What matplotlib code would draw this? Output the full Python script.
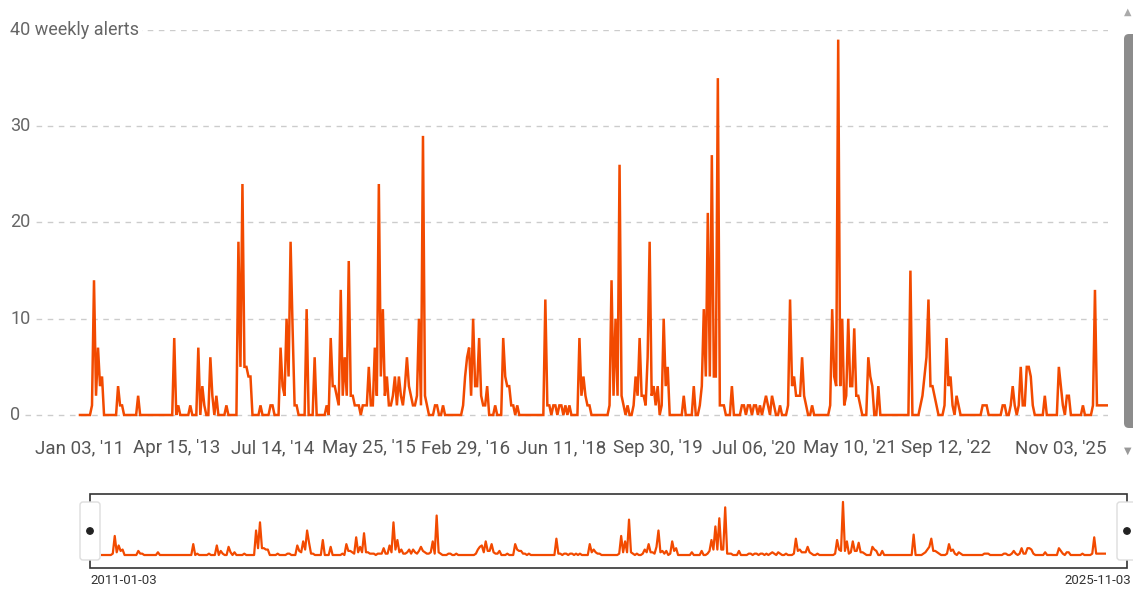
import numpy as np
import matplotlib
matplotlib.use("Agg")
import matplotlib.pyplot as plt
from matplotlib.patches import Rectangle, FancyBboxPatch, Circle

# weekly alert counts, one point per week on an ordinal axis (weeks not listed are 0)
n_weeks = 513
alerts_by_week = {
    6: 1, 7: 14, 8: 2, 9: 7, 10: 3, 11: 4,
    19: 3, 20: 1, 21: 1, 29: 2,
    47: 8, 49: 1, 55: 1, 59: 7, 61: 3, 62: 1, 65: 6, 66: 2, 68: 2, 73: 1,
    79: 18, 80: 5, 81: 24, 82: 5, 83: 5, 84: 4, 85: 4,
    90: 1, 95: 1, 96: 1,
    100: 7, 101: 3, 102: 2, 103: 10, 104: 4, 105: 18, 106: 9, 107: 1, 108: 1,
    113: 11, 117: 6, 123: 1,
    125: 8, 126: 3, 127: 3, 128: 2, 129: 1, 130: 13, 131: 2, 132: 6, 133: 2,
    134: 16, 135: 2, 136: 2, 137: 1, 138: 1, 139: 1, 141: 1, 142: 1, 143: 1,
    144: 5, 145: 1, 146: 1, 147: 7, 148: 2, 149: 24, 150: 4, 151: 11, 152: 2,
    153: 4, 154: 1, 155: 1, 156: 2, 157: 4, 158: 1, 159: 4, 160: 2, 161: 1,
    162: 3, 163: 6, 164: 3, 165: 2, 166: 1, 167: 1, 168: 2, 169: 10, 170: 1,
    171: 29, 172: 2, 173: 1, 177: 1, 178: 1, 181: 1,
    191: 1, 192: 4, 193: 6, 194: 7, 195: 2, 196: 10, 197: 3, 198: 3, 199: 8,
    200: 2, 201: 1, 202: 1, 203: 3, 207: 1,
    211: 8, 212: 4, 213: 3, 214: 3, 215: 1, 216: 1, 218: 1,
    232: 12, 233: 1, 234: 1, 236: 1, 237: 1, 239: 1, 240: 1, 242: 1, 244: 1,
    249: 8, 250: 2, 251: 4, 252: 2, 253: 1, 254: 1,
    264: 1, 265: 14, 266: 2, 267: 10, 268: 2, 269: 26, 270: 2, 271: 1, 273: 1,
    276: 1, 277: 4, 278: 2, 279: 8, 280: 2, 281: 2, 282: 1, 283: 6, 284: 18,
    285: 2, 286: 3, 287: 1, 288: 3, 290: 1, 291: 10, 292: 3, 293: 5,
    301: 2, 306: 3, 309: 1, 310: 3, 311: 11, 312: 4, 313: 21, 314: 4, 315: 27,
    316: 4, 317: 4, 318: 35, 319: 1, 320: 1, 321: 1, 325: 3,
    330: 1, 331: 1, 333: 1, 334: 1, 336: 1, 337: 1, 339: 1,
    341: 1, 342: 2, 343: 1, 345: 2, 346: 1, 349: 1,
    353: 1, 354: 12, 355: 3, 356: 4, 357: 2, 358: 2, 359: 2, 360: 6, 361: 2,
    362: 1, 365: 1,
    374: 1, 375: 11, 376: 4, 377: 3, 378: 39, 379: 3, 380: 10, 381: 1, 382: 2,
    383: 10, 384: 3, 385: 3, 386: 9, 387: 2, 388: 2, 389: 1,
    393: 6, 394: 4, 395: 3, 398: 3, 414: 15,
    419: 1, 420: 2, 421: 4, 422: 6, 423: 12, 424: 3, 425: 3, 426: 2, 427: 1,
    431: 1, 432: 8, 433: 3, 434: 4, 435: 1, 437: 2, 438: 1,
    450: 1, 451: 1, 452: 1,
    460: 1, 461: 1, 464: 1, 465: 3, 466: 1, 468: 1, 469: 5, 470: 1, 471: 1,
    472: 5, 473: 5, 474: 4, 475: 1, 481: 2,
    488: 5, 489: 3, 490: 1, 492: 2, 493: 2, 500: 1,
    505: 1, 506: 13, 507: 1, 508: 1, 509: 1, 510: 1, 511: 1, 512: 1,
}

tick_weeks = [0, 48, 96, 144, 192, 240, 288, 336, 384, 432, 512]
tick_labels = ["Jan 03, '11", "Apr 15, '13", "Jul 14, '14", "May 25, '15",
               "Feb 29, '16", "Jun 11, '18", "Sep 30, '19", "Jul 06, '20",
               "May 10, '21", "Sep 12, '22", "Nov 03, '25"]
y_ticks = [0, 10, 20, 30, 40]
y_labels = ["0", "10", "20", "30", "40 weekly alerts"]
nav_labels = ["2011-01-03", "2025-11-03"]

weeks = np.arange(n_weeks)
alerts = np.zeros(n_weeks)
for w, v in alerts_by_week.items():
    alerts[w] = v

W, H = 1133, 589
line_color = "#f24a00"
plt.rcParams["font.family"] = ["Roboto", "DejaVu Sans"]

fig = plt.figure(figsize=(W / 100, H / 100), dpi=100)

def px_box(x0, y0, x1, y1):
    return [x0 / W, 1 - y1 / H, (x1 - x0) / W, (y1 - y0) / H]

# overlay in pixel coords for the widget chrome
over = fig.add_axes([0, 0, 1, 1])
over.set_xlim(0, W)
over.set_ylim(H, 0)
over.axis("off")

# main chart
ax = fig.add_axes(px_box(25, 30, 1108, 420))
ax.patch.set_alpha(0)
ax.plot(weeks, alerts, color=line_color, lw=1.8, solid_joinstyle="miter", zorder=3)
ax.set_xlim(-27.4, n_weeks - 0.5)
ax.set_ylim(-0.52, 40)
for s in ax.spines.values():
    s.set_visible(False)
ax.set_yticks(y_ticks)
ax.set_yticklabels([])
ax.tick_params(axis="y", length=0)
ax.grid(axis="y", color="#cccccc", lw=1, ls=(0, (4, 4)))
ax.set_axisbelow(True)
for yv, lab in zip(y_ticks, y_labels):
    ax.text(-15 / 1083, yv, lab, transform=ax.get_yaxis_transform(),
            ha="left", va="center", fontsize=13, color="#666666",
            bbox=dict(facecolor="white", edgecolor="none", pad=2), zorder=4)
ax.set_xticks(tick_weeks)
ax.set_xticklabels(tick_labels, fontsize=13.5, color="#555555")
ax.tick_params(axis="x", length=0, pad=14)
ax.get_xticklabels()[-1].set_ha("right")

# navigator
nav = fig.add_axes(px_box(101, 500, 1106, 561))
nav.patch.set_alpha(0)
nav.plot(weeks, alerts, color=line_color, lw=1.6)
nav.set_xlim(0, n_weeks - 1)
nav.set_ylim(-4.4, 40.4)
nav.axis("off")

over.add_patch(Rectangle((90, 494), 1037, 74, fill=False, edgecolor="#333333", lw=1.2))
for hx in (90, 1127):
    over.add_patch(FancyBboxPatch((hx - 10, 502), 20, 58, boxstyle="round,pad=0,rounding_size=3",
                                  facecolor="white", edgecolor="#dddddd", lw=1, zorder=5))
    over.add_patch(Circle((hx, 531), 3.2, color="#222222", zorder=6))
over.text(90, 580, nav_labels[0], ha="left", va="center", fontsize=9.5, color="#333333")
over.text(1131, 580, nav_labels[1], ha="right", va="center", fontsize=9.5, color="#333333")

# scrollbar on the right
over.add_patch(FancyBboxPatch((1124, 34), 14, 394, boxstyle="round,pad=0,rounding_size=5",
                              facecolor="#8c8c8c", edgecolor="none"))
over.text(1128, 12, "\u25b2", ha="center", va="center", fontsize=7, color="#aaaaaa")
over.text(1128, 451, "\u25bc", ha="center", va="center", fontsize=7, color="#999999")

fig.savefig("out.png", dpi=100)
